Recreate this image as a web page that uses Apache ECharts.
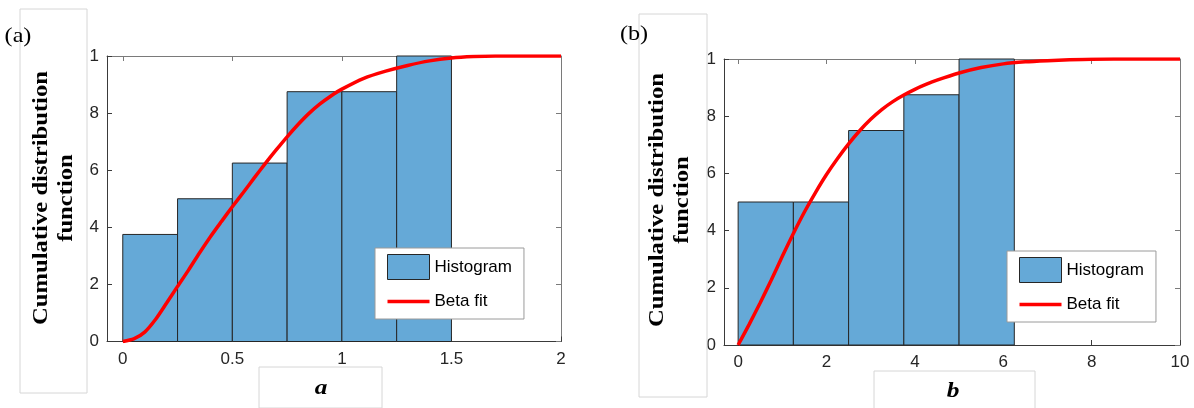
<!DOCTYPE html>
<html>
<head>
<meta charset="utf-8">
<script src="https://cdn.jsdelivr.net/npm/echarts@6/dist/echarts.min.js"></script>
<style>
  html, body { margin: 0; padding: 0; background: #fff; }
  #chart { width: 1194px; height: 408px; }
</style>
</head>
<body>
<div id="chart"></div>
<script>
// Panel (a): parameter a
const binEdgesA = [0, 0.25, 0.5, 0.75, 1, 1.25, 1.5];
const histA = [0.375, 0.5, 0.625, 0.875, 0.875, 1.0];
const fitAX = [0, 0.05, 0.1, 0.15, 0.2, 0.25, 0.3, 0.35, 0.4, 0.45, 0.5, 0.55, 0.6, 0.65, 0.7, 0.75, 0.8, 0.85, 0.9, 0.95, 1.0, 1.1, 1.2, 1.3, 1.4, 1.5, 1.6, 1.7, 1.8, 2.0];
const fitAY = [0, 0.009, 0.033, 0.078, 0.135, 0.193, 0.25, 0.31, 0.367, 0.42, 0.472, 0.522, 0.573, 0.623, 0.671, 0.717, 0.76, 0.799, 0.832, 0.86, 0.884, 0.922, 0.947, 0.967, 0.983, 0.993, 0.998, 1.0, 1.0, 1.0];
const xTicksA = [0, 0.5, 1, 1.5, 2];

// Panel (b): parameter b
const binEdgesB = [0, 1.25, 2.5, 3.75, 5, 6.25];
const histB = [0.5, 0.5, 0.75, 0.875, 1.0];
const fitBX = [0, 0.25, 0.5, 0.75, 1.0, 1.25, 1.5, 1.75, 2.0, 2.25, 2.5, 2.75, 3.0, 3.25, 3.5, 3.75, 4.0, 4.25, 4.5, 5.0, 5.5, 6.0, 6.5, 7.0, 7.5, 8.0, 9.0, 10.0];
const fitBY = [0, 0.072, 0.148, 0.227, 0.31, 0.39, 0.465, 0.533, 0.596, 0.652, 0.703, 0.749, 0.789, 0.823, 0.851, 0.874, 0.894, 0.911, 0.926, 0.951, 0.97, 0.983, 0.99, 0.994, 0.997, 0.999, 1.0, 1.0];
const xTicksB = [0, 2, 4, 6, 8, 10];

// y tick labels as printed on both panels
const yTickLabels = ['0', '2', '4', '6', '8', '1'];

const BAR_FILL = '#65a9d7';
const BAR_EDGE = '#262626';
const FIT_RED = '#ff0000';
const AXIS_DARK = '#3a3a3a';
const AXIS_LIGHT = '#7a7a7a';
const LABEL_FONT = 'Liberation Sans, Arial, sans-serif';
const SERIF = "'Liberation Serif', 'Times New Roman', serif";

function bins(edges, heights) {
  return heights.map((h, i) => [edges[i], edges[i + 1], h]);
}
function pairs(xs, ys) {
  return xs.map((x, i) => [x, ys[i]]);
}

function renderBin(params, api) {
  const p0 = api.coord([api.value(0), 0]);
  const p1 = api.coord([api.value(1), api.value(2)]);
  return {
    type: 'rect',
    shape: { x: p0[0], y: p1[1], width: p1[0] - p0[0], height: p0[1] - p1[1] },
    style: { fill: BAR_FILL, stroke: BAR_EDGE, lineWidth: 1 }
  };
}

function bottomAxis(grid, min, max, ticks) {
  return {
    type: 'value', gridIndex: grid, position: 'bottom', min: min, max: max,
    axisLine: { show: true, onZero: false, lineStyle: { color: AXIS_DARK, width: 1 } },
    axisTick: { show: true, inside: true, length: 5, customValues: ticks, lineStyle: { color: AXIS_DARK } },
    axisLabel: { show: true, customValues: ticks, margin: 9, color: '#262626', fontSize: 17, fontFamily: LABEL_FONT },
    splitLine: { show: false }
  };
}
function topAxis(grid, min, max, ticks) {
  return {
    type: 'value', gridIndex: grid, position: 'top', min: min, max: max,
    axisLine: { show: true, onZero: false, lineStyle: { color: AXIS_LIGHT, width: 1 } },
    axisTick: { show: true, inside: true, length: 5, customValues: ticks, lineStyle: { color: AXIS_LIGHT } },
    axisLabel: { show: false },
    splitLine: { show: false }
  };
}
function leftAxis(grid) {
  return {
    type: 'value', gridIndex: grid, position: 'left', min: 0, max: 1, interval: 0.2,
    axisLine: { show: true, onZero: false, lineStyle: { color: AXIS_DARK, width: 1 } },
    axisTick: { show: true, inside: true, length: 5, lineStyle: { color: AXIS_DARK } },
    axisLabel: {
      show: true, margin: 8, color: '#262626', fontSize: 17, fontFamily: LABEL_FONT,
      formatter: v => yTickLabels[Math.round(v * 5)]
    },
    splitLine: { show: false }
  };
}
function rightAxis(grid) {
  return {
    type: 'value', gridIndex: grid, position: 'right', min: 0, max: 1, interval: 0.2,
    axisLine: { show: true, onZero: false, lineStyle: { color: AXIS_LIGHT, width: 1 } },
    axisTick: { show: true, inside: true, length: 5, lineStyle: { color: AXIS_LIGHT } },
    axisLabel: { show: false },
    splitLine: { show: false }
  };
}

function legendAt(left, top) {
  return {
    left: left, top: top, orient: 'vertical',
    backgroundColor: '#fff', borderColor: '#9a9a9a', borderWidth: 1,
    padding: [6, 12, 9, 12], itemGap: 13, itemWidth: 42, itemHeight: 25,
    selectedMode: false, symbolKeepAspect: true,
    textStyle: { color: '#000', fontSize: 17, fontFamily: LABEL_FONT },
    data: [
      { name: 'Histogram', icon: 'rect', itemStyle: { color: BAR_FILL, borderColor: BAR_EDGE, borderWidth: 1 } },
      { name: 'Beta fit', icon: 'path://M0,0h42v3.5h-42z', itemStyle: { color: FIT_RED, borderWidth: 0 } }
    ]
  };
}

function yTitle(cx, cy) {
  return {
    type: 'text', x: cx, y: cy, rotation: Math.PI / 2, scaleX: 1.12, z: 10,
    style: {
      text: 'Cumulative distribution\nfunction', align: 'center', verticalAlign: 'middle',
      font: 'bold 22px ' + SERIF, lineHeight: 25, fill: '#000'
    }
  };
}
function frame(x, y, w, h) {
  return {
    type: 'rect', shape: { x: x, y: y, width: w, height: h }, z: 1,
    style: { fill: null, stroke: '#d6d6d6', lineWidth: 1 }
  };
}
function plainText(x, y, txt, font) {
  return {
    type: 'text', x: x, y: y, z: 10, scaleX: 1.15,
    style: { text: txt, align: 'center', verticalAlign: 'middle', font: font, fill: '#000' }
  };
}

function fitSeries(name, xi, yi, data) {
  return {
    name: name, type: 'line', xAxisIndex: xi, yAxisIndex: yi,
    smooth: 0.25, showSymbol: false, symbol: 'none',
    lineStyle: { color: FIT_RED, width: 3.5 }, itemStyle: { color: FIT_RED },
    data: data, z: 3
  };
}
function histSeries(name, xi, yi, data) {
  return {
    name: name, type: 'custom', xAxisIndex: xi, yAxisIndex: yi,
    renderItem: renderBin, encode: { x: [0, 1], y: 2 },
    itemStyle: { color: BAR_FILL, borderColor: BAR_EDGE, borderWidth: 1 },
    data: data, z: 2
  };
}

const chart = echarts.init(document.getElementById('chart'), null, { renderer: 'canvas' });
chart.setOption({
  animation: false,
  backgroundColor: '#fff',
  grid: [
    { left: 107, top: 56, width: 454, height: 285.5, containLabel: false },
    { left: 724, top: 59, width: 456, height: 286, containLabel: false }
  ],
  xAxis: [
    bottomAxis(0, -0.072, 2, xTicksA),
    topAxis(0, -0.072, 2, xTicksA),
    bottomAxis(1, -0.32, 10, xTicksB),
    topAxis(1, -0.32, 10, xTicksB)
  ],
  yAxis: [leftAxis(0), rightAxis(0), leftAxis(1), rightAxis(1)],
  legend: [legendAt(375, 248), legendAt(1007, 251)],
  series: [
    histSeries('Histogram', 0, 0, bins(binEdgesA, histA)),
    fitSeries('Beta fit', 0, 0, pairs(fitAX, fitAY)),
    histSeries('Histogram', 2, 2, bins(binEdgesB, histB)),
    fitSeries('Beta fit', 2, 2, pairs(fitBX, fitBY))
  ],
  graphic: [
    frame(20, 9, 67, 384),
    frame(259, 367, 123, 41),
    frame(639, 14, 68, 383),
    frame(874, 371, 161, 40),
    yTitle(53.5, 198),
    yTitle(669.5, 200),
    plainText(18, 36, '(a)', '21px ' + SERIF),
    plainText(634, 34, '(b)', '21px ' + SERIF),
    plainText(321, 388, 'a', 'italic bold 22px ' + SERIF),
    plainText(953, 391, 'b', 'italic bold 22px ' + SERIF)
  ]
});
</script>
</body>
</html>
